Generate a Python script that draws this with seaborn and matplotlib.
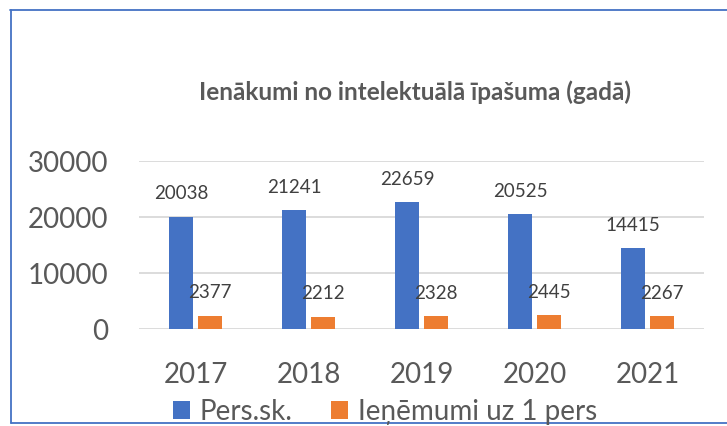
import matplotlib
matplotlib.use("Agg")
import matplotlib.pyplot as plt
from matplotlib.lines import Line2D
from matplotlib.patches import Patch
import seaborn as sns
import pandas as pd

years = ["2017", "2018", "2019", "2020", "2021"]
pers_sk = [20038, 21241, 22659, 20525, 14415]
ienemumi = [2377, 2212, 2328, 2445, 2267]
series_names = ["Pers.sk.", "Ieņēmumi uz 1 pers"]
title = "Ienākumi no intelektuālā īpašuma (gadā)"
yticks = [0, 10000, 20000, 30000]

colors = ["#4472C4", "#ED7D31"]

df = pd.DataFrame({
    "year": years * 2,
    "value": pers_sk + ienemumi,
    "series": [series_names[0]] * len(years) + [series_names[1]] * len(years),
})

sns.set_style("white")
plt.rcParams["font.family"] = ["Lato", "DejaVu Sans"]

W, H = 727, 426
fig = plt.figure(figsize=(W / 100, H / 100), dpi=100)
ax = fig.add_axes([139 / W, 1 - 329 / H, (704 - 139) / W, (329 - 161) / H])

sns.barplot(data=df, x="year", y="value", hue="series", order=years,
            hue_order=series_names, palette=colors, width=0.513, gap=0.14,
            saturation=1, ax=ax, legend=False, edgecolor="none")

ax.set_ylim(0, 30000)
ax.set_xlim(-0.5, len(years) - 0.5)
ax.set_yticks(yticks)
ax.set_yticklabels([str(v) for v in yticks])
ax.yaxis.grid(True, color="#D9D9D9", linewidth=1.3)
ax.set_axisbelow(True)
for s in ax.spines.values():
    s.set_visible(False)
ax.tick_params(axis="both", length=0, labelsize=20, labelcolor="#595959")
ax.tick_params(axis="y", pad=22)
ax.tick_params(axis="x", pad=24)
ax.set_xlabel("")
ax.set_ylabel("")

for cont in ax.containers:
    for bar in cont:
        h = bar.get_height()
        ax.annotate(f"{int(round(h))}", (bar.get_x() + bar.get_width() / 2, h),
                    xytext=(0, 12.5), textcoords="offset points",
                    ha="center", va="baseline", fontsize=13.5, color="#404040")

fig.text(415 / W, 1 - 92 / H, title, ha="center", va="center",
         fontsize=17.5, fontweight="bold", color="#595959")

handles = [Patch(facecolor=c, edgecolor="none") for c in colors]
fig.legend(handles, series_names, loc="center", bbox_to_anchor=(385 / W, 1 - 412 / H),
           ncol=2, frameon=False, fontsize=20, labelcolor="#595959",
           handlelength=0.62, handleheight=0.62, handletextpad=0.35,
           columnspacing=1.4, borderpad=0, borderaxespad=0)

bc = "#4472C4"
fig.add_artist(Line2D([10 / W, 1], [1 - 10 / H, 1 - 10 / H], color=bc, lw=1.3, transform=fig.transFigure))
fig.add_artist(Line2D([11 / W, 11 / W], [1 - 10 / H, 1 - 423 / H], color=bc, lw=1.3, transform=fig.transFigure))
fig.add_artist(Line2D([11 / W, 1], [1 - 423 / H, 1 - 423 / H], color=bc, lw=1.3, transform=fig.transFigure))

fig.savefig("out.png", dpi=100, facecolor="white")
